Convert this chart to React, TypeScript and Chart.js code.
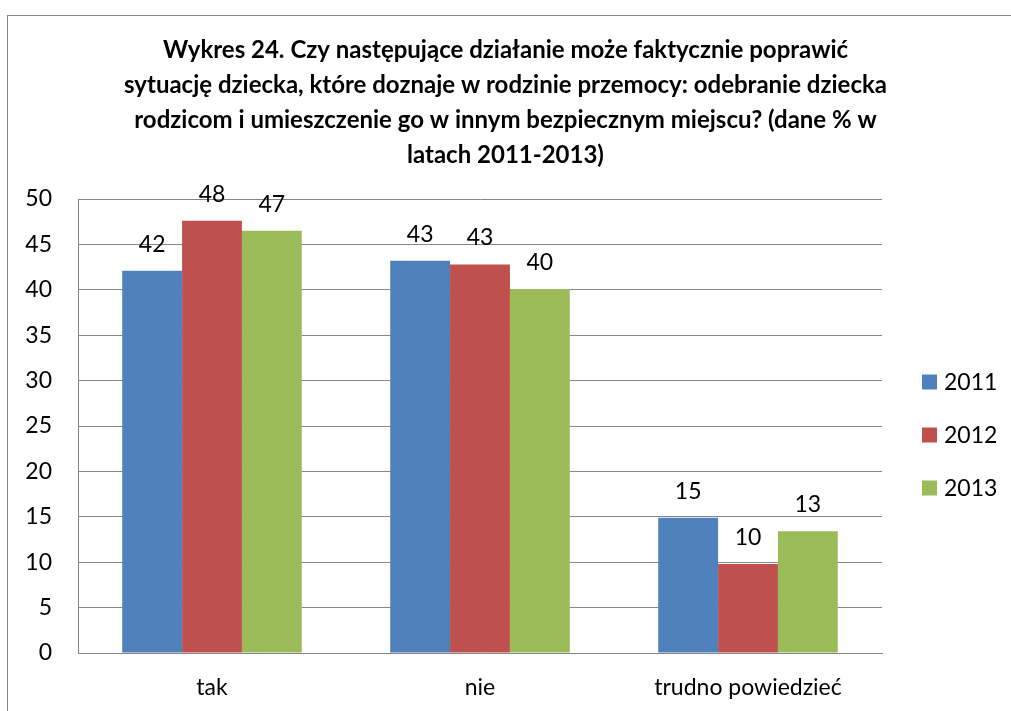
import React, { useEffect, useRef } from "react";
import { Chart, registerables } from "chart.js";

Chart.register(...registerables);

const categories = ["tak", "nie", "trudno powiedzieć"];
const seriesNames = ["2011", "2012", "2013"];
const values2011 = [42.1, 43.2, 14.9];
const values2012 = [47.6, 42.8, 9.8];
const values2013 = [46.5, 40.1, 13.4];
const seriesColors = ["#4F81BD", "#C0504D", "#9BBB59"];
const yTicks = [0, 5, 10, 15, 20, 25, 30, 35, 40, 45, 50];
const titleLines = [
  "Wykres 24. Czy następujące działanie może faktycznie poprawić",
  "sytuację dziecka, które doznaje w rodzinie przemocy: odebranie dziecka",
  "rodzicom i umieszczenie go w innym bezpiecznym miejscu? (dane % w",
  "latach 2011-2013)",
];

const FONT = "Lato, 'Liberation Sans', sans-serif";
const TEXT_SIZE = 23;

const valueLabels = {
  id: "valueLabels",
  afterDatasetsDraw(chart: any) {
    const ctx = chart.ctx;
    ctx.save();
    ctx.font = `${TEXT_SIZE}px ${FONT}`;
    ctx.fillStyle = "#000";
    ctx.textAlign = "center";
    ctx.textBaseline = "alphabetic";
    chart.data.datasets.forEach((ds: any, i: number) => {
      const meta = chart.getDatasetMeta(i);
      meta.data.forEach((el: any, j: number) => {
        ctx.fillText(String(Math.round(ds.data[j])), el.x, el.y - 19);
      });
    });
    ctx.restore();
  },
};

const centeredTitle = {
  id: "centeredTitle",
  afterDraw(chart: any) {
    const ctx = chart.ctx;
    ctx.save();
    ctx.font = `bold 24px ${FONT}`;
    ctx.fillStyle = "#000";
    ctx.textAlign = "center";
    ctx.textBaseline = "middle";
    const cx = chart.width / 2;
    titleLines.forEach((line, i) => {
      ctx.fillText(line, cx, 50 + i * 35);
    });
    ctx.restore();
  },
};

const sideLegend = {
  id: "sideLegend",
  afterDraw(chart: any) {
    const ctx = chart.ctx;
    const area = chart.chartArea;
    const spacing = 53;
    const box = 15;
    const n = chart.data.datasets.length;
    const centerY = (area.top + area.bottom) / 2 + 9;
    const x0 = area.right + 40;
    ctx.save();
    ctx.font = `${TEXT_SIZE}px ${FONT}`;
    ctx.textAlign = "left";
    ctx.textBaseline = "middle";
    chart.data.datasets.forEach((ds: any, i: number) => {
      const y = centerY + (i - (n - 1) / 2) * spacing;
      ctx.fillStyle = ds.backgroundColor;
      ctx.fillRect(x0, y - box / 2, box, box);
      ctx.fillStyle = "#000";
      ctx.fillText(ds.label, x0 + box + 7, y + 1);
    });
    ctx.restore();
  },
};

export default function App() {
  const ref = useRef<HTMLCanvasElement>(null);
  useEffect(() => {
    const allValues = [values2011, values2012, values2013];
    const chart = new Chart(ref.current!, {
      type: "bar",
      data: {
        labels: categories,
        datasets: seriesNames.map((name, i) => ({
          label: name,
          data: allValues[i],
          backgroundColor: seriesColors[i],
          borderWidth: 0,
          categoryPercentage: 0.67,
          barPercentage: 1.0,
        })),
      },
      options: {
        animation: false,
        responsive: true,
        maintainAspectRatio: false,
        layout: { padding: { left: 0, right: 129, top: 199, bottom: 7 } },
        plugins: {
          title: { display: false },
          legend: { display: false },
          tooltip: { enabled: false },
        },
        scales: {
          x: {
            grid: { display: false, drawTicks: false },
            border: { display: true, color: "#868686", width: 1 },
            ticks: { color: "#000", font: { family: FONT, size: TEXT_SIZE }, padding: 21 },
            afterFit: (scale: any) => {
              scale.height = 51;
            },
          },
          y: {
            min: 0,
            max: 50,
            afterBuildTicks: (axis: any) => {
              axis.ticks = yTicks.map((v) => ({ value: v }));
            },
            grid: { color: "#868686", drawTicks: false },
            border: { display: true, color: "#868686", width: 1 },
            ticks: { color: "#000", font: { family: FONT, size: TEXT_SIZE }, padding: 26 },
            afterFit: (scale: any) => {
              scale.width = 78;
            },
          },
        },
      },
      plugins: [valueLabels, centeredTitle, sideLegend],
    });
    return () => chart.destroy();
  }, []);

  return (
    <div style={{ position: "absolute", left: 0, top: 0, width: 1011, height: 711, background: "#fff" }}>
      <div
        style={{
          position: "absolute",
          left: 7,
          top: 15,
          width: 1011,
          height: 711,
          border: "1px solid #868686",
        }}
      />
      <div style={{ position: "absolute", left: 0, top: 0, width: 1011, height: 711 }}>
        <canvas ref={ref} />
      </div>
    </div>
  );
}
